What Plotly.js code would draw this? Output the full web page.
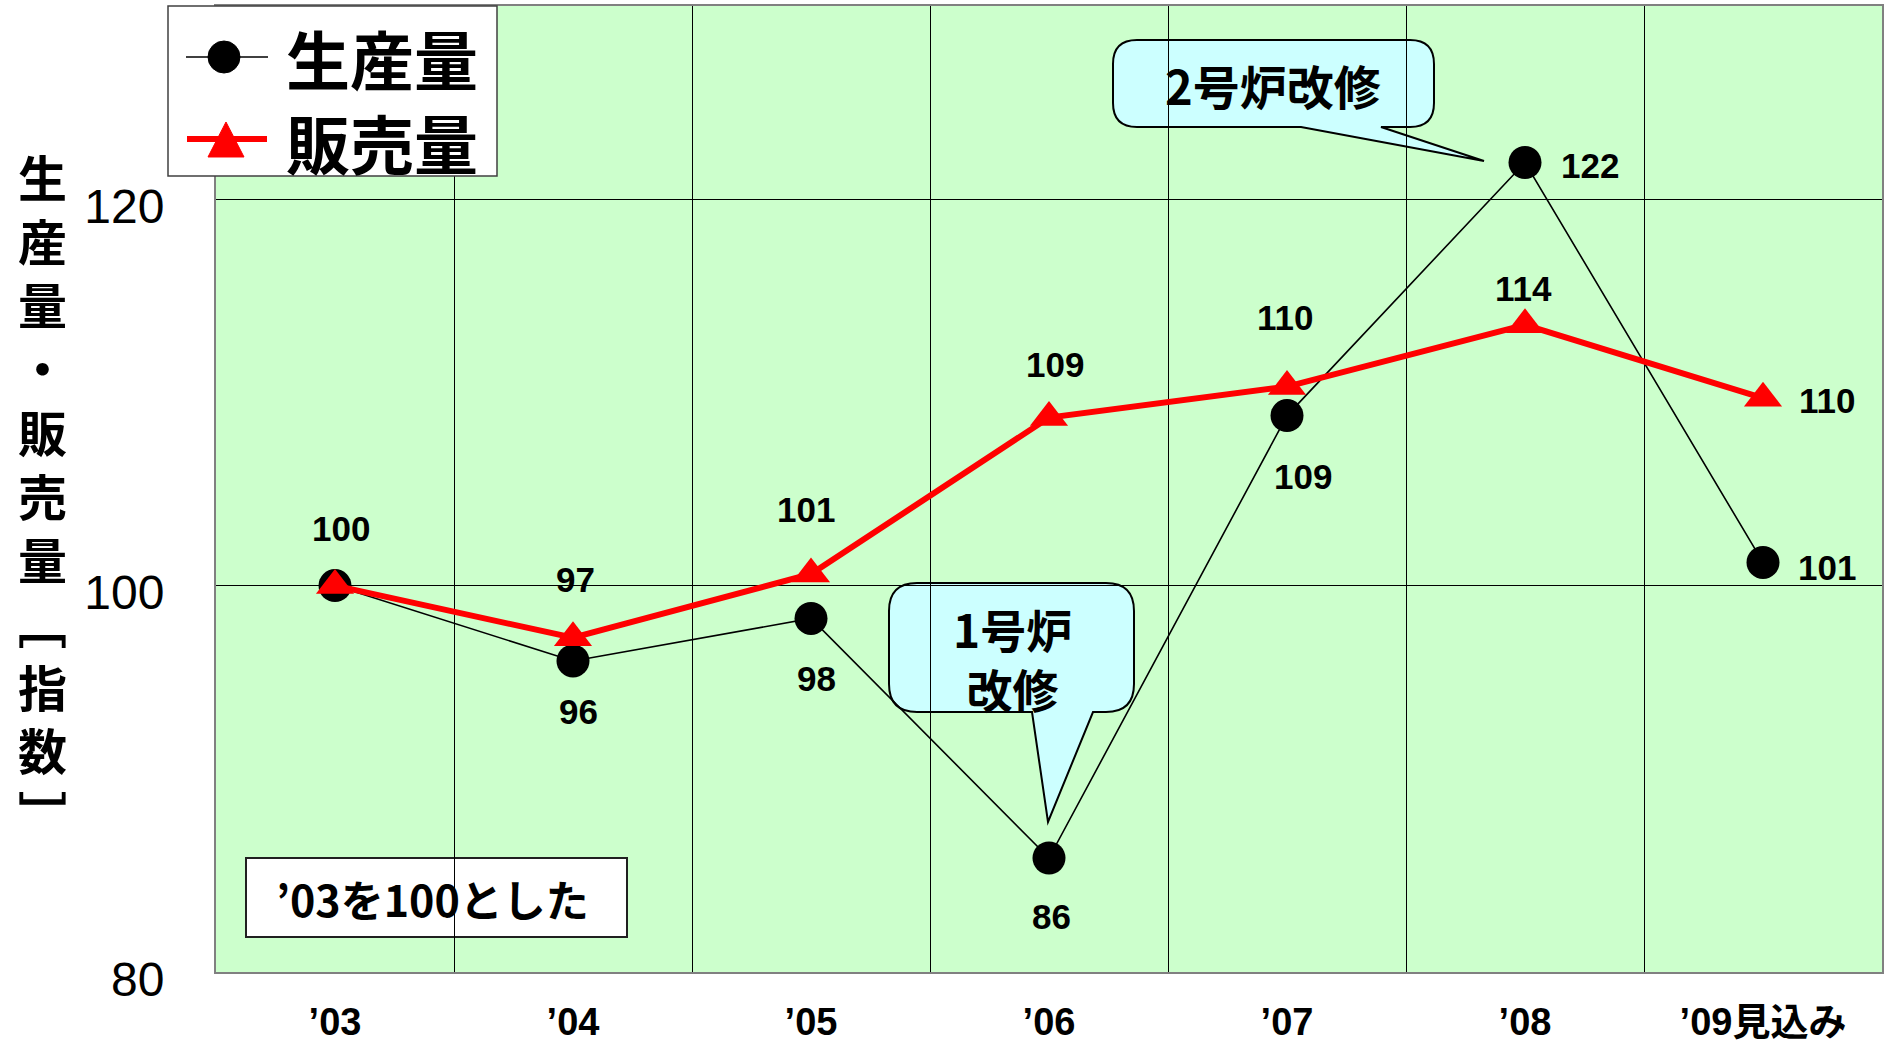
<!DOCTYPE html>
<html>
<head>
<meta charset="utf-8">
<script src="https://cdn.plot.ly/plotly-3.0.1.min.js"></script>
<style>html,body{margin:0;padding:0;background:#fff;}#chart{width:1888px;height:1046px;}</style>
</head>
<body>
<div id="chart"></div>
<script>
// ---- data ----
const years = ["’03", "’04", "’05", "’06", "’07", "’08", "’09見込み"];
const production = [100, 96.1, 98.3, 85.9, 108.8, 121.9, 101.2];   // 生産量
const sales      = [100, 97.3, 100.6, 108.7, 110.3, 113.5, 109.7];  // 販売量
const seriesNames = ["生産量", "販売量"];
const yTitle = "生産量・販売量﹇指数﹈";
const note = "’03を100とした";
const callout1 = "1号炉<br>改修";
const callout2 = "2号炉改修";

// ---- geometry helpers (pixel -> paper) ----
const W = 1888, H = 1046;
const M = {l: 216, r: 6, t: 6, b: 74};
const PW = W - M.l - M.r, PH = H - M.t - M.b;
const PX = x => (x - M.l) / PW;
const PY = y => (H - M.b - y) / PH;

const CJK = "Noto Sans CJK JP, Liberation Sans, sans-serif";
const NUM = "Liberation Sans, Arial, sans-serif";
const MIX = "Liberation Sans, Noto Sans CJK JP, sans-serif";

// label offsets (pixels, from point centre)
const prodLabelOff = [null, [5, 51], [5, 60], [2, 58], [16, 61], [65, 3], [64, 5]];
const salesLabelOff = [[6, -57], [2, -58], [-5, -65], [6, -53], [-2, -69], [-2, -36], [64, 2]];

const traces = [
  {
    x: years, y: production, type: "scatter", mode: "lines+markers", name: seriesNames[0],
    line: {color: "#000000", width: 1.6},
    marker: {symbol: "circle", size: 33, color: "#000000"},
    showlegend: false, cliponaxis: false
  },
  {
    x: years, y: sales, type: "scatter", mode: "lines+markers", name: seriesNames[1],
    line: {color: "#ff0000", width: 6},
    marker: {symbol: "triangle-up", size: 33, color: "#ff0000"},
    showlegend: false, cliponaxis: false
  }
];

const annotations = [];
production.forEach((v, i) => {
  const o = prodLabelOff[i];
  if (!o) return;
  annotations.push({x: years[i], y: v, xref: "x", yref: "y", text: String(Math.round(v)),
    showarrow: false, xshift: o[0], yshift: -o[1], xanchor: "center", yanchor: "middle",
    font: {family: NUM, size: 35, color: "#000", weight: "bold"}});
});
sales.forEach((v, i) => {
  const o = salesLabelOff[i];
  if (!o) return;
  annotations.push({x: years[i], y: v, xref: "x", yref: "y", text: String(Math.round(v)),
    showarrow: false, xshift: o[0], yshift: -o[1], xanchor: "center", yanchor: "middle",
    font: {family: NUM, size: 35, color: "#000", weight: "bold"}});
});

// y axis title, stacked vertically
annotations.push({xref: "paper", yref: "paper", x: PX(42), y: PY(494), xanchor: "center", yanchor: "middle",
  text: Array.from(yTitle).join("<br>"), showarrow: false, align: "center",
  font: {family: CJK, size: 49, color: "#000", weight: "bold"}});

// legend texts
annotations.push({xref: "paper", yref: "paper", x: PX(284), y: PY(57), xanchor: "left", yanchor: "middle",
  text: seriesNames[0], showarrow: false, font: {family: CJK, size: 64, color: "#000", weight: "bold"}});
annotations.push({xref: "paper", yref: "paper", x: PX(284), y: PY(141), xanchor: "left", yanchor: "middle",
  text: seriesNames[1], showarrow: false, font: {family: CJK, size: 64, color: "#000", weight: "bold"}});

// note box text
annotations.push({xref: "paper", yref: "paper", x: PX(432), y: PY(898), xanchor: "center", yanchor: "middle",
  text: note, showarrow: false, font: {family: CJK, size: 43, color: "#000", weight: "bold"}});

// callout texts
annotations.push({xref: "paper", yref: "paper", x: PX(1273), y: PY(84), xanchor: "center", yanchor: "middle",
  text: callout2, showarrow: false, font: {family: CJK, size: 47, color: "#000", weight: "bold"}});
annotations.push({xref: "paper", yref: "paper", x: PX(1012), y: PY(658), xanchor: "center", yanchor: "middle",
  text: callout1, showarrow: false, align: "center", font: {family: CJK, size: 46, color: "#000", weight: "bold"}});

function P(x, y) { return PX(x).toFixed(5) + "," + PY(y).toFixed(5); }
function bubble(x0, y0, x1, y1, r, ta, tb, tip) {
  return "M" + P(x0 + r, y0) + " L" + P(x1 - r, y0) + " Q" + P(x1, y0) + " " + P(x1, y0 + r) +
    " L" + P(x1, y1 - r) + " Q" + P(x1, y1) + " " + P(x1 - r, y1) +
    " L" + P(tb, y1) + " L" + P(tip[0], tip[1]) + " L" + P(ta, y1) +
    " L" + P(x0 + r, y1) + " Q" + P(x0, y1) + " " + P(x0, y1 - r) +
    " L" + P(x0, y0 + r) + " Q" + P(x0, y0) + " " + P(x0 + r, y0) + " Z";
}

const shapes = [
  // callout 2
  {type: "path", xref: "paper", yref: "paper", layer: "between",
   path: bubble(1113, 40, 1434, 127, 24, 1301, 1381, [1484, 161]),
   fillcolor: "#ccffff", line: {color: "#000", width: 2}},
  // callout 1
  {type: "path", xref: "paper", yref: "paper", layer: "between",
   path: bubble(889, 583, 1134, 712, 28, 1032, 1093, [1048, 822]),
   fillcolor: "#ccffff", line: {color: "#000", width: 2}},
  // note box
  {type: "rect", xref: "paper", yref: "paper", layer: "between",
   x0: PX(246), x1: PX(627), y0: PY(937), y1: PY(858),
   fillcolor: "#ffffff", line: {color: "#202020", width: 2}},
  // legend box
  {type: "rect", xref: "paper", yref: "paper", layer: "above",
   x0: PX(168), x1: PX(497), y0: PY(176), y1: PY(6),
   fillcolor: "#ffffff", line: {color: "#404040", width: 1.5}},
  // legend samples
  {type: "line", xref: "paper", yref: "paper", layer: "above",
   x0: PX(186), x1: PX(268), y0: PY(57), y1: PY(57), line: {color: "#000", width: 1.6}},
  {type: "circle", xref: "paper", yref: "paper", layer: "above",
   x0: PX(208), x1: PX(240), y0: PY(73), y1: PY(41), fillcolor: "#000", line: {color: "#000", width: 1}},
  {type: "line", xref: "paper", yref: "paper", layer: "above",
   x0: PX(187), x1: PX(267), y0: PY(139), y1: PY(139), line: {color: "#ff0000", width: 6}},
  {type: "path", xref: "paper", yref: "paper", layer: "above",
   path: "M" + P(208, 157) + " L" + P(244, 157) + " L" + P(226, 122) + " Z",
   fillcolor: "#ff0000", line: {color: "#ff0000", width: 1}}
];

const layout = {
  width: W, height: H,
  margin: M,
  paper_bgcolor: "#ffffff",
  plot_bgcolor: "#ccffcc",
  showlegend: false,
  font: {family: NUM, color: "#000"},
  xaxis: {
    type: "category", range: [-0.5, 6.5], tickson: "boundaries",
    showgrid: true, gridcolor: "#000000", gridwidth: 1,
    ticks: "", showline: true, mirror: true, linecolor: "#808080", linewidth: 2,
    tickfont: {family: MIX, size: 38, color: "#000", weight: "bold"},
    ticklabelstandoff: 15, fixedrange: true
  },
  yaxis: {
    range: [80, 130], tick0: 0, dtick: 20,
    showgrid: true, gridcolor: "#000000", gridwidth: 1, zeroline: false,
    ticks: "", showline: true, mirror: true, linecolor: "#808080", linewidth: 2,
    tickfont: {family: NUM, size: 48, color: "#000"},
    ticklabelstandoff: 40, ticklabelshift: 7, fixedrange: true
  },
  shapes: shapes,
  annotations: annotations
};

Plotly.newPlot("chart", traces, layout, {displayModeBar: false, staticPlot: true});
</script>
</body>
</html>
